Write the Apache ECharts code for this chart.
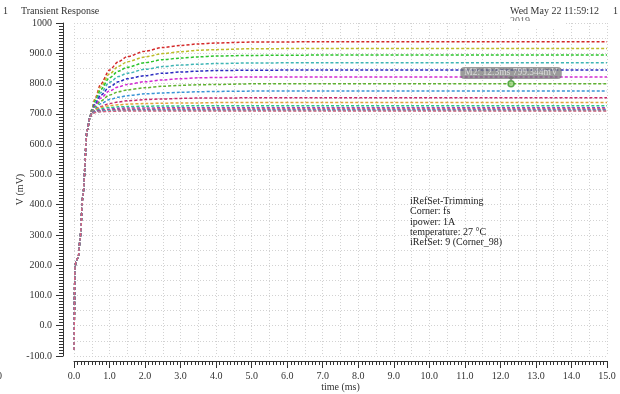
<!DOCTYPE html>
<html>
<head>
<meta charset="utf-8">
<script src="https://cdn.jsdelivr.net/npm/echarts@6/dist/echarts.min.js"></script>
<style>
  html, body { margin: 0; padding: 0; background: #fff; }
  #chart { width: 620px; height: 394px; }
</style>
</head>
<body>
<div id="chart"></div>
<script>
// Start-up ramp shared by every trimming code (ms, mV)
const riseTime = [0, 0.03, 0.06, 0.12, 0.17, 0.25, 0.37, 0.45];
const riseVolt = [-80, 195, 215, 225, 285, 430, 645, 688];

// Settling part, one array per iRefSet code (ms, mV)
const settleTime = [0.5, 0.6, 0.75, 1.0, 1.25, 1.5, 2.0, 2.5, 3.0, 3.5, 4.0, 5.0, 7.0, 15.0];
const trace01 = [715, 752, 798, 845, 872, 889, 907, 919, 926, 931, 934, 937, 938, 938];
const trace02 = [714, 748, 789, 832, 857, 872, 888, 899, 905, 910, 912, 915, 916, 916];
const trace03 = [713, 743, 780, 819, 841, 854, 869, 879, 884, 888, 891, 893, 894, 894];
const trace04 = [712, 738, 770, 804, 823, 834, 847, 856, 861, 864, 866, 868, 869, 869];
const trace05 = [711, 733, 761, 789, 806, 816, 826, 834, 838, 841, 843, 844, 845, 845];
const trace06 = [710, 729, 752, 776, 789, 797, 806, 812, 816, 819, 820, 822, 822, 822];
const trace07 = [709, 724, 742, 762, 773, 779, 786, 791, 794, 796, 797, 799, 799.3, 799.3];
const trace08 = [708, 719, 733, 747, 755, 760, 766, 769, 771, 773, 774, 775, 775, 775];
const trace09 = [707, 715, 724, 734, 739, 743, 747, 749, 751, 752, 752, 753, 753, 753];
const trace10 = [706, 714, 721, 727, 730, 732, 734, 735, 736, 736, 737, 737, 737, 737];
const trace11 = [705, 711, 717, 721, 723, 724, 725, 726, 726, 727, 727, 727, 727, 727];
const trace12 = [704, 709, 713, 716, 718, 719, 719, 720, 720, 720, 720, 720, 720, 720];
const trace13 = [703, 707, 711, 713, 714, 715, 715, 716, 716, 716, 716, 716, 716, 716];
const trace14 = [702, 706, 709, 711, 712, 712, 713, 713, 713, 713, 713, 713, 713, 713];
const trace15 = [701, 705, 708, 710, 710, 711, 711, 711, 711, 711, 711, 711, 711, 711];
const trace16 = [700, 704, 707, 708, 709, 709, 709, 709, 709, 709, 709, 709, 709, 709];

const traces = [trace01, trace02, trace03, trace04, trace05, trace06, trace07, trace08,
                trace09, trace10, trace11, trace12, trace13, trace14, trace15, trace16];
const traceColors = ['#d42a2a', '#bcbc2a', '#2cc42c', '#3fb5b5', '#2a2ac0', '#d22ad2', '#5fb22f', '#3a95d6',
                     '#c8286a', '#e0a43a', '#2cc48a', '#8a48c8', '#e04a4a', '#4a64d4', '#40c4c4', '#d8607e'];

// Marker M2
const markerTime = 12.3;
const markerVolt = 799.344;

// Annotation block
const infoLines = ['iRefSet-Trimming', 'Corner: fs', 'ipower: 1A', 'temperature: 27 \u00B0C', 'iRefSet: 9 (Corner_98)'];

const FONT = '"Liberation Serif", "DejaVu Serif", serif';
const chart = echarts.init(document.getElementById('chart'), null, { renderer: 'canvas' });

const series = traces.map((tr, k) => ({
  type: 'line',
  xAxisIndex: 0,
  yAxisIndex: 0,
  data: riseTime.map((t, i) => [t, riseVolt[i]]).concat(settleTime.map((t, i) => [t, tr[i]])),
  showSymbol: false,
  smooth: 0.3,
  smoothMonotone: 'x',
  lineStyle: { color: traceColors[k], width: 1.5, type: [3, 2] },
  itemStyle: { color: traceColors[k] },
  z: 2 + k,
  silent: true,
  animation: false
}));

// Marker pointer and label
series.push({
  type: 'scatter',
  data: [[markerTime, markerVolt]],
  symbol: 'triangle',
  symbolRotate: 180,
  symbolSize: [7, 4],
  symbolOffset: [0, -5],
  itemStyle: { color: '#787878' },
  z: 30,
  silent: true,
  animation: false
});
series.push({
  type: 'scatter',
  data: [[markerTime, markerVolt]],
  symbol: 'circle',
  symbolSize: 6,
  itemStyle: { color: '#9ad27a', borderColor: '#3c9a2c', borderWidth: 1.5 },
  label: {
    show: true,
    position: 'top',
    distance: 1,
    formatter: 'M2: ' + markerTime + 'ms ' + markerVolt + 'mV',
    fontFamily: FONT,
    fontSize: 9.5,
    color: '#ececec',
    backgroundColor: 'rgba(112,112,112,0.88)',
    borderRadius: 4,
    padding: [1, 4, 1, 4]
  },
  z: 31,
  silent: true,
  animation: false
});

const gridLine = { show: true, lineStyle: { color: '#d2d2d2', type: [1, 2], width: 1 } };
const hidden = { show: false };
const hiddenLine = { show: false, onZero: false };
const tickLine = { color: '#333', width: 1 };

chart.setOption({
  backgroundColor: '#ffffff',
  animation: false,
  grid: { left: 74, right: 13, top: 23, bottom: 38, containLabel: false, outerBoundsMode: 'none' },
  xAxis: [
    {
      type: 'value', min: 0, max: 15, interval: 1,
      position: 'bottom', offset: 5,
      name: 'time (ms)', nameLocation: 'middle', nameGap: 21, nameMoveOverlap: false,
      nameTextStyle: { fontFamily: FONT, fontSize: 10, color: '#333' },
      axisLine: { show: true, onZero: false, lineStyle: tickLine },
      axisTick: { show: true, length: 7, lineStyle: tickLine },
      axisLabel: { fontFamily: FONT, fontSize: 10, color: '#333', margin: 10,
                   formatter: v => v.toFixed(1) },
      splitLine: hidden
    },
    {
      // dotted grid every 0.5 ms
      type: 'value', min: 0, max: 15, interval: 0.5, position: 'bottom',
      axisLine: hiddenLine, axisTick: hidden, axisLabel: hidden,
      splitLine: gridLine
    },
    {
      // fine ticks every 0.1 ms
      type: 'value', min: 0, max: 15, interval: 0.1, position: 'bottom', offset: 5,
      axisLine: hiddenLine, axisLabel: hidden, splitLine: hidden,
      axisTick: { show: true, length: 4, lineStyle: tickLine }
    }
  ],
  yAxis: [
    {
      type: 'value', min: -100, max: 1000, interval: 100,
      position: 'left', offset: 11,
      name: 'V (mV)', nameLocation: 'middle', nameGap: 38, nameRotate: 90, nameMoveOverlap: false,
      nameTextStyle: { fontFamily: FONT, fontSize: 10, color: '#333' },
      axisLine: { show: true, onZero: false, lineStyle: tickLine },
      axisTick: { show: true, length: 7, lineStyle: tickLine },
      axisLabel: { fontFamily: FONT, fontSize: 10, color: '#333', margin: 11,
                   formatter: v => (v === 1000 ? '1000' : v.toFixed(1)) },
      splitLine: hidden
    },
    {
      // dotted grid every 50 mV
      type: 'value', min: -100, max: 1000, interval: 50, position: 'left',
      axisLine: hiddenLine, axisTick: hidden, axisLabel: hidden,
      splitLine: gridLine
    },
    {
      // fine ticks every 10 mV
      type: 'value', min: -100, max: 1000, interval: 10, position: 'left', offset: 11,
      axisLine: hiddenLine, axisLabel: hidden, splitLine: hidden,
      axisTick: { show: true, length: 4, lineStyle: tickLine }
    }
  ],
  series: series,
  graphic: [
    { type: 'text', left: 3, top: 6, style: { text: '1', font: '10px ' + FONT, fill: '#333' } },
    { type: 'text', left: 21, top: 6, style: { text: 'Transient Response', font: '10px ' + FONT, fill: '#333' } },
    { type: 'text', left: 510, top: 6, style: { text: 'Wed May 22 11:59:12', font: '10px ' + FONT, fill: '#333' } },
    { type: 'text', left: 510, top: 16, z: 1, style: { text: '2019', font: '10px ' + FONT, fill: '#666' } },
    { type: 'rect', left: 505, top: 21, z: 2, shape: { width: 60, height: 6 }, style: { fill: '#ffffff' } },
    { type: 'text', left: 613, top: 6, style: { text: '1', font: '10px ' + FONT, fill: '#333' } },
    { type: 'text', left: -3, top: 371, style: { text: '0', font: '10px ' + FONT, fill: '#333' } },
    { type: 'text', left: 410, top: 196, z: 40,
      style: { text: infoLines.join('\n'), font: '10px ' + FONT, fill: '#222', lineHeight: 10.4 } }
  ]
});
</script>
</body>
</html>
